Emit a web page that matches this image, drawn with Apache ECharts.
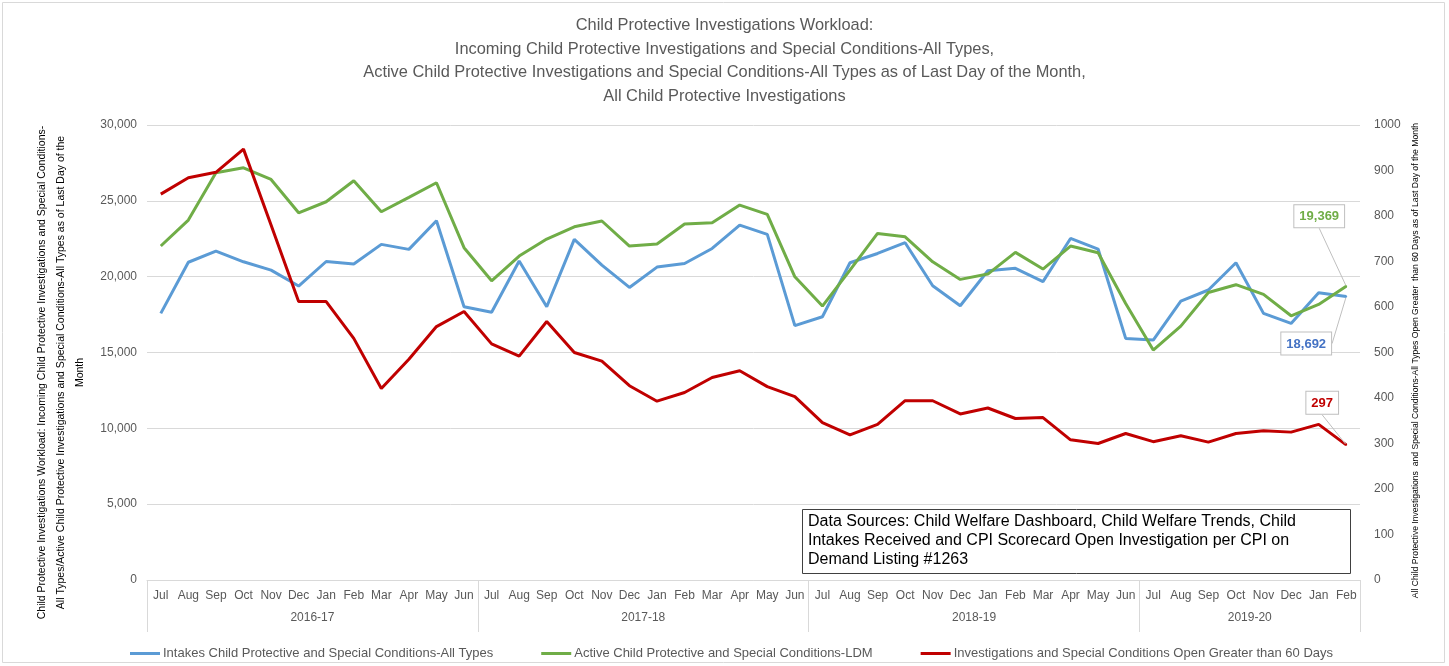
<!DOCTYPE html>
<html>
<head>
<meta charset="utf-8">
<script src="https://cdn.jsdelivr.net/npm/echarts@6/dist/echarts.min.js"></script>
<style>html,body{margin:0;padding:0;background:#fff}#c{width:1449px;height:666px}</style>
</head>
<body>
<div id="c"></div>
<script>
const months = ['Jul','Aug','Sep','Oct','Nov','Dec','Jan','Feb','Mar','Apr','May','Jun',
  'Jul','Aug','Sep','Oct','Nov','Dec','Jan','Feb','Mar','Apr','May','Jun',
  'Jul','Aug','Sep','Oct','Nov','Dec','Jan','Feb','Mar','Apr','May','Jun',
  'Jul','Aug','Sep','Oct','Nov','Dec','Jan','Feb'];
const yearLabels = ['2016-17','2017-18','2018-19','2019-20'];
const yearMonthCounts = [12,12,12,8];

const intakes = [17580,20950,21690,20980,20430,19380,21000,20830,22130,21800,23690,18020,
  17650,21030,18020,22460,20760,19290,20630,20870,21860,23400,22790,16770,
  17360,20920,21530,22240,19400,18080,20390,20550,19670,22520,21820,15930,
  15820,18390,19120,20920,17580,16920,18940,18692];
const active = [22020,23730,26850,27180,26410,24210,24940,26320,24280,25230,26190,21910,
  19730,21360,22480,23290,23670,22020,22150,23470,23550,24720,24110,19990,
  18060,20430,22850,22630,20980,19820,20170,21600,20500,22020,21580,18230,
  15160,16740,18960,19470,18830,17420,18170,19369];
const over60 = [848,884,896,947,780,612,612,531,421,485,557,590,
  519,492,568,500,481,427,393,412,445,460,425,403,
  346,319,342,394,394,365,378,355,357,308,300,322,
  304,317,303,322,328,325,342,297];

const leftTicks = {min:0, max:30000, interval:5000};
const rightTicks = {min:0, max:1000, interval:100};

const seriesNames = ['Intakes Child Protective and Special Conditions-All Types',
  'Active Child Protective and Special Conditions-LDM',
  'Investigations and Special Conditions Open Greater than 60 Days'];
const colors = ['#5b9bd5','#70ad47','#c00000'];

const titleText = 'Child Protective Investigations Workload:\nIncoming Child Protective Investigations and Special Conditions-All Types,\nActive Child Protective Investigations and Special Conditions-All Types as of Last Day of the Month,\nAll Child Protective Investigations';
const leftName = 'Child Protective Investigations Workload: Incoming Child Protective Investigations and Special Conditions-\nAll Types/Active Child Protective Investigations and Special Conditions-All Types as of Last Day of the\nMonth';
const rightName = 'All Child Protective Investigations  and Special Conditions-All Types Open Greater  than 60 Days as of Last Day of the Month';
const sourceText = 'Data Sources: Child Welfare Dashboard, Child Welfare Trends, Child\nIntakes Received and CPI Scorecard Open Investigation per CPI on\nDemand Listing #1263';

// year boundaries and centres in category index units
const yearBounds = [-0.5];
const yearCenters = [];
yearMonthCounts.forEach(n => {
  const start = yearBounds[yearBounds.length - 1];
  yearCenters.push(start + n / 2);
  yearBounds.push(start + n);
});

const FONT = 'Liberation Sans';
const fmt = v => v.toLocaleString('en-US');

function buildData(vals, labelCfg) {
  return vals.map((v, i) => i === vals.length - 1 ? {
    value: v,
    symbol: 'circle',
    symbolSize: 2,
    label: Object.assign({
      show: true,
      formatter: p => fmt(p.value),
      backgroundColor: '#fff',
      borderColor: '#bfbfbf',
      borderWidth: 1,
      padding: [5, 5, 4, 5],
      fontWeight: 'bold',
      fontSize: 13,
      fontFamily: FONT,
      distance: 0
    }, labelCfg),
    labelLine: { show: true, lineStyle: { color: '#bfbfbf', width: 1 } }
  } : v);
}

const chart = echarts.init(document.getElementById('c'), null, {renderer: 'canvas'});
chart.setOption({
  animation: false,
  textStyle: { fontFamily: FONT },
  title: [{
    text: titleText,
    left: 'center',
    top: 9,
    textStyle: { fontSize: 16.4, fontWeight: 'normal', color: '#595959', lineHeight: 23.5, fontFamily: FONT }
  }, {
    text: sourceText,
    left: 802,
    top: 509,
    borderColor: '#404040',
    borderWidth: 1,
    padding: [3, 55, 5, 6],
    backgroundColor: '#fff',
    textStyle: { fontSize: 16, fontWeight: 'normal', color: '#000', lineHeight: 19, fontFamily: FONT }
  }],
  graphic: [{
    type: 'rect',
    shape: { x: 2.5, y: 2.5, width: 1442, height: 660 },
    style: { fill: null, stroke: '#d9d9d9', lineWidth: 1 },
    silent: true
  }],
  legend: {
    left: 125,
    top: 642,
    itemWidth: 30,
    itemHeight: 3,
    itemGap: 48,
    icon: 'rect',
    textStyle: { fontSize: 13, color: '#595959', fontFamily: FONT, padding: [0, 0, 0, -2] },
    data: seriesNames
  },
  grid: { left: 147, right: 89, top: 125, bottom: 86, containLabel: false },
  xAxis: [{
    type: 'category',
    data: months,
    boundaryGap: true,
    axisLine: { lineStyle: { color: '#d9d9d9' } },
    axisTick: { show: false },
    axisLabel: { color: '#595959', fontSize: 12, margin: 10, interval: 0, fontFamily: FONT }
  }, {
    type: 'value',
    position: 'bottom',
    min: -0.5,
    max: months.length - 0.5,
    splitLine: { show: false },
    axisLine: { show: false },
    axisTick: { show: true, customValues: yearBounds, length: 52, lineStyle: { color: '#d9d9d9' } },
    axisLabel: {
      customValues: yearCenters,
      margin: 32,
      color: '#595959',
      fontSize: 12,
      fontFamily: FONT,
      formatter: v => {
        const k = yearCenters.findIndex(c => Math.abs(c - v) < 1e-6);
        return k >= 0 ? yearLabels[k] : '';
      }
    }
  }],
  yAxis: [{
    type: 'value',
    min: leftTicks.min, max: leftTicks.max, interval: leftTicks.interval,
    axisLine: { show: false },
    axisTick: { show: false },
    splitLine: { lineStyle: { color: '#d9d9d9', width: 1 } },
    axisLabel: { color: '#595959', fontSize: 12, margin: 10, formatter: v => fmt(v), fontFamily: FONT },
    name: leftName,
    nameLocation: 'middle',
    nameRotate: 90,
    nameGap: 56,
    nameTextStyle: { fontSize: 10.5, color: '#000', lineHeight: 19, fontFamily: FONT, align: 'center', padding: [0, 0, 0, -40] }
  }, {
    type: 'value',
    position: 'right',
    min: rightTicks.min, max: rightTicks.max, interval: rightTicks.interval,
    axisLine: { show: false },
    axisTick: { show: false },
    splitLine: { show: false },
    axisLabel: { color: '#595959', fontSize: 12, margin: 14, fontFamily: FONT, formatter: v => String(v) },
    name: rightName,
    nameLocation: 'middle',
    nameRotate: 90,
    nameGap: 42,
    nameTextStyle: { fontSize: 8.6, color: '#000', fontFamily: FONT, padding: [0, 0, 0, -16] }
  }],
  series: [{
    name: seriesNames[0],
    type: 'line',
    yAxisIndex: 0,
    showSymbol: true,
    symbol: 'none',
    lineStyle: { color: colors[0], width: 3 },
    itemStyle: { color: colors[0] },
    data: buildData(intakes, { position: 'bottom', color: '#4472c4' }),
    labelLayout: { dx: -40, dy: 35 },
    z: 3
  }, {
    name: seriesNames[1],
    type: 'line',
    yAxisIndex: 0,
    showSymbol: true,
    symbol: 'none',
    lineStyle: { color: colors[1], width: 3 },
    itemStyle: { color: colors[1] },
    data: buildData(active, { position: 'top', color: colors[1] }),
    labelLayout: { dx: -27, dy: -58 },
    z: 4
  }, {
    name: seriesNames[2],
    type: 'line',
    yAxisIndex: 1,
    showSymbol: true,
    symbol: 'none',
    lineStyle: { color: colors[2], width: 3 },
    itemStyle: { color: colors[2] },
    data: buildData(over60, { position: 'top', color: colors[2] }),
    labelLayout: { dx: -24, dy: -30 },
    z: 5
  }]
});
</script>
</body>
</html>
